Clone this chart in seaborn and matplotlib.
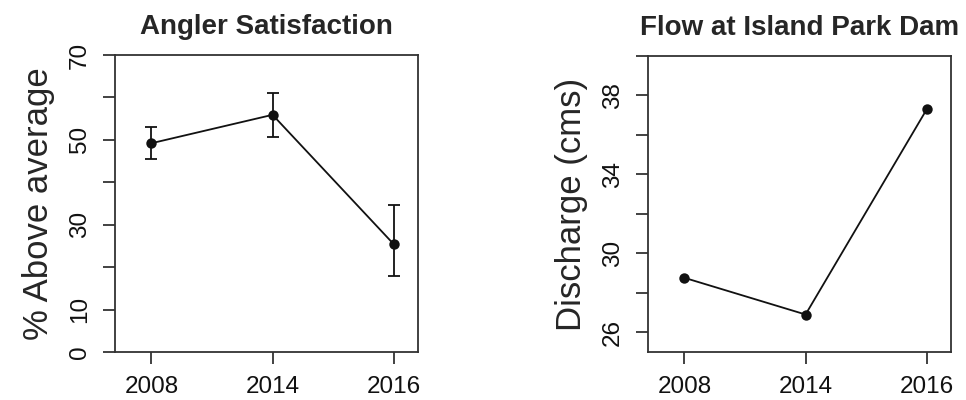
import numpy as np
import pandas as pd
import matplotlib
matplotlib.use("Agg")
import matplotlib.pyplot as plt
import seaborn as sns

# ---- data ----
years = ["2008", "2014", "2016"]
satisfaction = [49.2, 55.9, 25.4]
sat_lower = [45.4, 50.7, 17.9]
sat_upper = [53.1, 61.1, 34.6]
discharge = [28.76, 26.9, 37.3]

sat_yticks = [0, 10, 20, 30, 40, 50, 60, 70]
sat_ylabels = ["0", "10", "", "30", "", "50", "", "70"]
dis_yticks = [26, 28, 30, 32, 34, 36, 38, 40]
dis_ylabels = ["26", "", "30", "", "34", "", "38", ""]

sns.set_theme(style="ticks")
plt.rcParams["font.family"] = ["Liberation Sans", "DejaVu Sans"]

fig = plt.figure(figsize=(9.66, 4.0), dpi=100)
ax1 = fig.add_axes([115 / 966, 48 / 400, 303 / 966, 297 / 400])
ax2 = fig.add_axes([648 / 966, 48 / 400, 303 / 966, 296 / 400])

pos = np.arange(len(years))
df1 = pd.DataFrame({"pos": pos, "val": satisfaction})
df2 = pd.DataFrame({"pos": pos, "val": discharge})

edge = "#333333"
for ax in (ax1, ax2):
    for s in ax.spines.values():
        s.set_visible(True)
        s.set_color(edge)
        s.set_linewidth(1.3)

# left panel
yerr = [np.array(satisfaction) - np.array(sat_lower),
        np.array(sat_upper) - np.array(satisfaction)]
ax1.errorbar(pos, satisfaction, yerr=yerr, fmt="none", ecolor="#111111",
             elinewidth=1.3, capsize=4.3, capthick=1.3, zorder=2)
sns.lineplot(data=df1, x="pos", y="val", ax=ax1, color="#111111",
             marker="o", markersize=7.5, markeredgewidth=0, linewidth=1.3,
             zorder=3)
ax1.set_ylim(0, 70)
ax1.set_yticks(sat_yticks)
ax1.set_yticklabels(sat_ylabels, rotation=90, va="center")
ax1.set_ylabel("% Above average", fontsize=25, labelpad=10)
ax1.set_title("Angler Satisfaction", fontsize=20, fontweight="bold", pad=15)

# right panel
sns.lineplot(data=df2, x="pos", y="val", ax=ax2, color="#111111",
             marker="o", markersize=7.5, markeredgewidth=0, linewidth=1.3,
             zorder=3)
ax2.set_ylim(25, 40)
ax2.set_yticks(dis_yticks)
ax2.set_yticklabels(dis_ylabels, rotation=90, va="center")
ax2.set_ylabel("Discharge (cms)", fontsize=25, labelpad=10)
ax2.set_title("Flow at Island Park Dam", fontsize=20, fontweight="bold", pad=15)

for ax in (ax1, ax2):
    ax.set_xlim(-0.3, 2.2)
    ax.set_xticks(pos)
    ax.set_xticklabels(years)
    ax.set_xlabel("")
    ax.tick_params(axis="both", direction="out", length=8.5, width=1.3,
                   color=edge, labelsize=17.5, labelcolor="#111111", pad=9)
    ax.set_facecolor("white")

fig.savefig("out.png", dpi=100, facecolor="white")
